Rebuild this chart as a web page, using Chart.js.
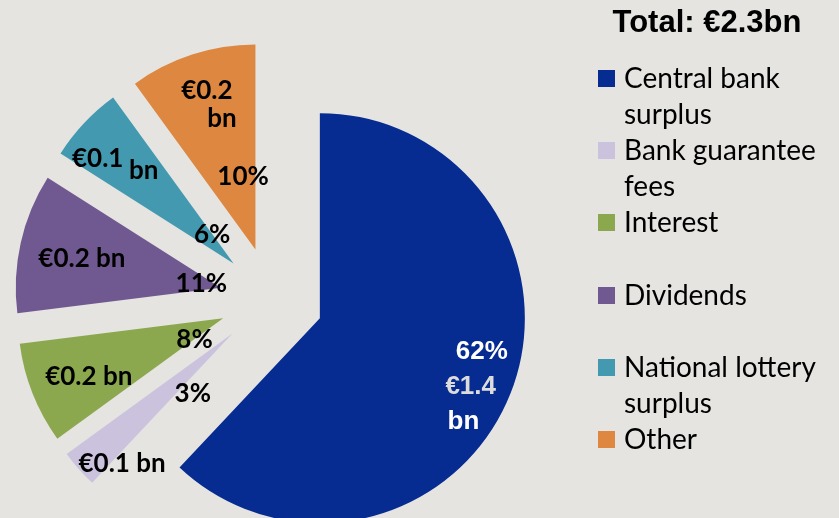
<!DOCTYPE html>
<html>
<head>
<meta charset="utf-8">
<script src="https://cdn.jsdelivr.net/npm/chart.js@4.4.0/dist/chart.umd.min.js"></script>
<style>
  html, body { margin: 0; padding: 0; background: #e5e4e0; }
  #wrap { position: relative; width: 839px; height: 518px; overflow: hidden; }
  #wrap canvas { position: absolute; left: 0; top: 0; }
  #title { position: absolute; left: 560px; width: 294px; top: 4px; text-align: center;
           font: bold 31px "Liberation Sans", Arial, sans-serif; color: #000; }
  .item { position: absolute; left: 598px; font: 28px Lato, sans-serif; color: #000; }
  .sw { position: absolute; left: 0; width: 17px; height: 17px; }
  .txt { position: absolute; left: 26px; white-space: nowrap; line-height: 36px; }
</style>
</head>
<body>
<div id="wrap">
  <canvas id="pie" width="839" height="518"></canvas>
  <div id="title">Total: €2.3bn</div>
</div>
<script>
// 범주와 값
const categories = [
  ["Central bank", "surplus"],
  ["Bank guarantee", "fees"],
  ["Interest"],
  ["Dividends"],
  ["National lottery", "surplus"],
  ["Other"]
];
const shares = [62, 3, 8, 11, 6, 10];          // %
const amounts = [1.4, 0.1, 0.2, 0.2, 0.1, 0.2]; // €bn
const colors = ["#062b91", "#cbc3de", "#8ba84f", "#705890", "#4399b0", "#dd8741"];

// 조각을 중심에서 떨어뜨리는 거리(px)
const EXPLODE = 52;

// 라벨 배치: [조각, 종류, 각도(위쪽 기준 시계방향), 꼭짓점에서의 거리]
const labelLayout = [
  [0, "pct", 101.1, 165], [0, "val", 113.9, 165], [0, "unit", 125.3, 176],
  [1, "pct", 214.0, 71], [1, "both", 220.5, 170],
  [2, "pct", 234.9, 35], [2, "both", 247.0, 146],
  [3, "pct", 283.3, 20], [3, "both", 282.1, 142],
  [4, "pct", 324.5, 37], [4, "val", 307.8, 172], [4, "unit", 316.2, 130],
  [5, "pct", 350.5, 75], [5, "val", 343.1, 167], [5, "unit", 345.7, 136]
];

function labelText(i, kind) {
  if (kind === "pct") return shares[i] + "%";
  if (kind === "val") return "€" + amounts[i].toFixed(1);
  if (kind === "unit") return "bn";
  return "€" + amounts[i].toFixed(1) + " bn";
}

const explodePlugin = {
  id: "explode",
  afterDatasetUpdate(chart, args) {
    args.meta.data.forEach((arc) => {
      const mid = (arc.startAngle + arc.endAngle) / 2;
      arc.x += Math.cos(mid) * EXPLODE;
      arc.y += Math.sin(mid) * EXPLODE;
    });
  }
};

const sliceLabels = {
  id: "sliceLabels",
  afterDatasetsDraw(chart) {
    const arcs = chart.getDatasetMeta(0).data;
    const ctx = chart.ctx;
    ctx.save();
    ctx.textAlign = "center";
    ctx.textBaseline = "alphabetic";
    labelLayout.forEach(([i, kind, deg, dist]) => {
      const arc = arcs[i];
      const a = deg * Math.PI / 180;
      const x = arc.x + Math.sin(a) * dist;
      const y = arc.y - Math.cos(a) * dist;
      if (i === 0) {
        ctx.font = 'bold 26px "Liberation Sans", Arial, sans-serif';
        ctx.fillStyle = kind === "val" ? "#dcdcdc" : "#ffffff";
      } else {
        ctx.font = "bold 26px Lato, sans-serif";
        ctx.fillStyle = "#000000";
      }
      ctx.fillText(labelText(i, kind), x, y + 26 * 0.36);
    });
    ctx.restore();
  }
};

new Chart(document.getElementById("pie").getContext("2d"), {
  type: "pie",
  data: {
    labels: categories.map((c) => c.join(" ")),
    datasets: [{ data: shares, backgroundColor: colors, borderWidth: 0 }]
  },
  options: {
    responsive: false,
    animation: false,
    radius: 205,
    layout: { padding: { left: 0, right: 296, top: 80, bottom: 0 } },
    plugins: { legend: { display: false }, tooltip: { enabled: false } }
  },
  plugins: [explodePlugin, sliceLabels]
});

// 범례
const wrap = document.getElementById("wrap");
categories.forEach((lines, k) => {
  const base = 87 + 72.2 * k;
  const item = document.createElement("div");
  item.className = "item";
  item.style.top = base + "px";
  const sw = document.createElement("div");
  sw.className = "sw";
  sw.style.background = colors[k];
  sw.style.top = "-17px";
  const txt = document.createElement("div");
  txt.className = "txt";
  txt.style.top = "-28px";
  txt.innerHTML = lines.join("<br>");
  item.appendChild(sw);
  item.appendChild(txt);
  wrap.appendChild(item);
});
</script>
</body>
</html>
